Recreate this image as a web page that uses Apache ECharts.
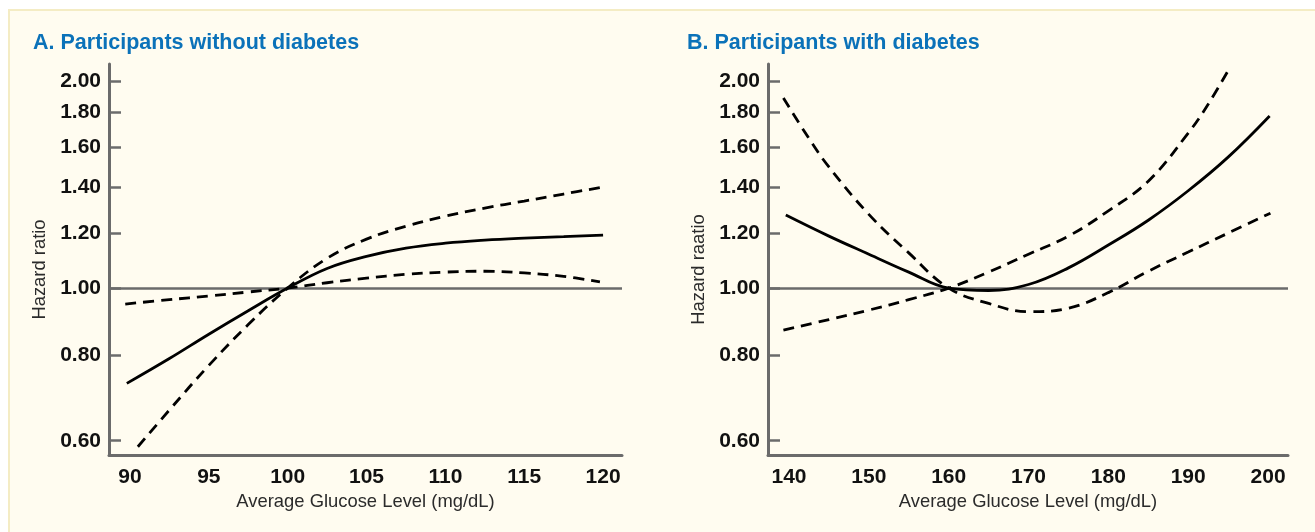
<!DOCTYPE html>
<html>
<head>
<meta charset="utf-8">
<script src="https://cdn.jsdelivr.net/npm/echarts@6/dist/echarts.min.js"></script>
<style>
html,body{margin:0;padding:0;background:#ffffff;width:1315px;height:532px;overflow:hidden;}
#panel{position:absolute;left:8px;top:9px;right:0;bottom:0;background:#fffcf0;border-top:2px solid #f4ecc4;border-left:2px solid #f4ecc4;}
#chart{position:absolute;left:0;top:0;width:1315px;height:532px;}
</style>
</head>
<body>
<div id="panel"></div>
<div id="chart"></div>
<script>
// ---- Data (hazard ratios) ----
var yTicks = [0.60, 0.80, 1.00, 1.20, 1.40, 1.60, 1.80, 2.00];
var aXTicks = [90, 95, 100, 105, 110, 115, 120];
var bXTicks = [140, 150, 160, 170, 180, 190, 200];

// Panel A: participants without diabetes
var aSolidX = [89.8, 92.5, 95, 97.5, 100, 102.5, 105, 107.5, 110, 112.5, 115, 117.5, 120];
var aSolidHR = [0.727, 0.790, 0.857, 0.927, 1.0, 1.068, 1.112, 1.143, 1.162, 1.174, 1.182, 1.188, 1.194];
var aSteepX = [90.5, 92.5, 95, 97.5, 100, 102.5, 105, 107.5, 110, 112.5, 115, 117.5, 120.1];
var aSteepHR = [0.588, 0.665, 0.772, 0.885, 1.0, 1.105, 1.178, 1.230, 1.272, 1.307, 1.338, 1.370, 1.404];
var aFlatX = [89.7, 92.5, 95, 97.5, 100, 102.5, 105, 107.5, 110, 112.5, 115, 117.5, 119.8];
var aFlatHR = [0.948, 0.962, 0.974, 0.987, 1.0, 1.018, 1.034, 1.047, 1.055, 1.058, 1.052, 1.040, 1.021];

// Panel B: participants with diabetes
var bSolidX = [139.6, 145, 150, 155, 160, 165, 170, 175, 180, 185, 190, 195, 200.2];
var bSolidHR = [1.277, 1.19, 1.12, 1.055, 1.0, 0.992, 1.012, 1.07, 1.155, 1.255, 1.385, 1.55, 1.779];
var bSteepX = [139.3, 142.5, 145, 150, 155, 160, 165, 170, 175, 180, 185, 190, 195, 200.3];
var bSteepHR = [1.889, 1.65, 1.50, 1.28, 1.125, 1.0, 0.950, 0.924, 0.935, 0.985, 1.058, 1.128, 1.202, 1.285];
var bRiseX = [139.3, 145, 150, 155, 160, 165, 170, 175, 180, 185, 190, 192.5, 195.3];
var bRiseHR = [0.869, 0.90, 0.929, 0.962, 1.0, 1.055, 1.12, 1.19, 1.295, 1.43, 1.68, 1.85, 2.10];

// ---- Styling ----
var AXIS = '#6b6b6b';
var BOLD = "'Liberation Sans', Arial, sans-serif";
var REG = "'Liberation Sans', Arial, sans-serif";
var yMin = Math.log(0.572), yMax = Math.log(2.117);

function pts(xs, ys) { return xs.map(function (x, i) { return [x, Math.log(ys[i])]; }); }

function xAxis(idx, min, max, ticks) {
  return {
    type: 'value', gridIndex: idx, min: min, max: max,
    name: 'Average Glucose Level (mg/dL)', nameLocation: 'middle', nameGap: 37,
    nameTextStyle: { fontFamily: REG, fontSize: 18.4, color: '#2b2b2b' },
    axisLine: { show: true, onZero: false, lineStyle: { color: AXIS, width: 3 } },
    axisTick: { show: false },
    splitLine: { show: false },
    axisLabel: { customValues: ticks, margin: 12, fontFamily: BOLD, fontWeight: 'bold', fontSize: 21, color: '#111' }
  };
}
function yAxis(idx, name) {
  var lt = yTicks.map(function (v) { return Math.log(v); });
  return {
    type: 'value', gridIndex: idx, min: yMin, max: yMax,
    name: name, nameLocation: 'middle', nameGap: 60, nameRotate: 90,
    nameTextStyle: { fontFamily: REG, fontSize: 18.4, color: '#2b2b2b', padding: [0, 20, 0, 0] },
    axisLine: { show: true, onZero: false, lineStyle: { color: AXIS, width: 3 } },
    axisTick: { show: true, inside: true, length: 12, customValues: lt, lineStyle: { color: AXIS, width: 2.5 } },
    splitLine: { show: false },
    axisLabel: {
      customValues: lt, margin: 8, fontFamily: BOLD, fontWeight: 'bold', fontSize: 21, color: '#111',
      formatter: function (v) { return Math.exp(v).toFixed(2); }
    }
  };
}
function curve(idx, xs, ys, dashed) {
  return {
    type: 'line', xAxisIndex: idx, yAxisIndex: idx, data: pts(xs, ys),
    smooth: 0.4, symbol: 'none', z: 5, silent: true,
    lineStyle: { color: '#000', width: 2.8, type: dashed ? [11, 7] : 'solid' }
  };
}
function refLine(idx) {
  return {
    type: 'line', xAxisIndex: idx, yAxisIndex: idx, data: [], z: 1, silent: true,
    markLine: {
      silent: true, symbol: 'none', animation: false,
      label: { show: false },
      lineStyle: { color: AXIS, width: 2.5, type: 'solid' },
      data: [{ yAxis: 0 }]
    }
  };
}

var chart = echarts.init(document.getElementById('chart'));
chart.setOption({
  animation: false,
  backgroundColor: 'transparent',
  title: [
    { text: 'A. Participants without diabetes', left: 33, top: 32, padding: 0,
      textStyle: { fontFamily: BOLD, fontWeight: 'bold', fontSize: 21.5, color: '#0b72b9' } },
    { text: 'B. Participants with diabetes', left: 687, top: 32, padding: 0,
      textStyle: { fontFamily: BOLD, fontWeight: 'bold', fontSize: 21.5, color: '#0b72b9' } }
  ],
  grid: [
    { left: 109, top: 64, width: 513, height: 391 },
    { left: 768, top: 64, width: 520, height: 391 }
  ],
  xAxis: [
    xAxis(0, 88.67, 121.2, aXTicks),
    xAxis(1, 137.37, 202.5, bXTicks)
  ],
  yAxis: [
    yAxis(0, 'Hazard ratio'),
    yAxis(1, 'Hazard raatio')
  ],
  series: [
    refLine(0),
    curve(0, aSolidX, aSolidHR, false),
    curve(0, aSteepX, aSteepHR, true),
    curve(0, aFlatX, aFlatHR, true),
    refLine(1),
    curve(1, bSolidX, bSolidHR, false),
    curve(1, bSteepX, bSteepHR, true),
    curve(1, bRiseX, bRiseHR, true)
  ]
});
</script>
</body>
</html>
